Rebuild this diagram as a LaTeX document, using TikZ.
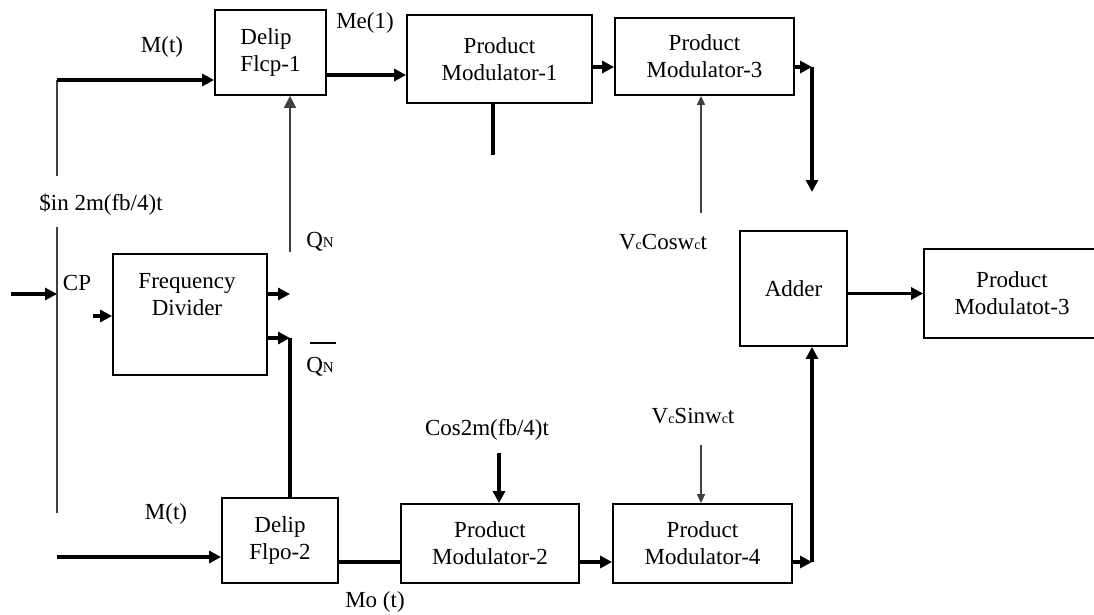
\documentclass[tikz,border=0pt]{standalone}
\usepackage{fontspec}
\setmainfont{Liberation Serif}
\usetikzlibrary{arrows.meta}
\newcommand{\smallsub}[1]{{\fontsize{14}{14}\selectfont #1}}
\newcommand{\smallN}{{\fontsize{15}{15}\selectfont N}}
\begin{document}
\begin{tikzpicture}[x=1pt,y=-1pt,
  font=\fontsize{23}{27}\selectfont,
  box/.style={draw, line width=1.8pt, inner sep=0pt, align=center},
  lbl/.style={inner sep=0pt, align=center},
  thk/.style={line width=3.2pt},
  thn/.style={line width=1.6pt, black!75},
  arr/.style={-{Triangle[length=12pt,width=12pt]}},
  arrs/.style={-{Triangle[length=9pt,width=8pt]}}]
\useasboundingbox (0,0) rectangle (1094,615);
\fill[white] (0,0) rectangle (1094,615);

% boxes
\node[box, minimum width=111pt, minimum height=85pt, align=left] (D1) at (270.5,52.5) {Delip\\Flcp-1};
\node[box, minimum width=185pt, minimum height=88pt] (PM1) at (499.5,59) {Product\\Modulator-1};
\node[box, minimum width=179pt, minimum height=77pt] (PM3) at (704.5,56.5) {Product\\Modulator-3};
\node[box, minimum width=107pt, minimum height=115pt] (AD) at (793.5,288.5) {Adder};
\node[box, minimum width=176pt, minimum height=89pt] (OUT) at (1012,293.5) {Product\\Modulatot-3};
\node[box, minimum width=154pt, minimum height=121pt] (FD) at (190,314.5) {};
\node[lbl] (FDt) at (187,295) {Frequency\\Divider};
\node[box, minimum width=116pt, minimum height=85pt] (D2) at (280,540.5) {Delip\\Flpo-2};
\node[box, minimum width=178pt, minimum height=79pt] (PM2) at (490,543.5) {Product\\Modulator-2};
\node[box, minimum width=179pt, minimum height=79pt] (PM4) at (702.5,543.5) {Product\\Modulator-4};

% labels
\node[lbl] (lMt) at (162,47) {M(t)};
\node[lbl] (lMe) at (365,23) {Me(1)};
\node[lbl] (lsin) at (101,205) {\$in 2m(fb/4)t};
\node[lbl] (lQN) at (320,242) {Q\smallN};
\node[lbl] (lCP) at (77,283) {CP};
\node[lbl] (lQNbar) at (323,343) {\rule{26pt}{1.5pt}};
\node[lbl] (lQNb) at (320,367) {Q\smallN};
\node[lbl] (lvcc) at (663,242) {V\smallsub{c}Cosw\smallsub{c}t};
\node[lbl] (lcos) at (487,430) {Cos2m(fb/4)t};
\node[lbl] (lvcs) at (693,416) {V\smallsub{c}Sinw\smallsub{c}t};
\node[lbl] (lMt2) at (166,514) {M(t)};
\node[lbl] (lMo) at (375,602) {Mo (t)};

% helper coordinates
\coordinate (y67) at (0,67);
\coordinate (y75) at (0,75);
\coordinate (y294) at (0,294);
\coordinate (y316) at (0,316);
\coordinate (y338) at (0,338);
\coordinate (y557) at (0,557);
\coordinate (y562) at (0,562);
\coordinate (cTopL) at (57,176);
\coordinate (cTopC) at (57,80);
\coordinate (cLvA) at (57,227);
\coordinate (cLvB) at (57,513);
\coordinate (cCPin) at (11,294);
\coordinate (cCP) at (57,294);
\coordinate (cFDin) at (93,316);
\coordinate (cQN) at (290,252);
\coordinate (cQNo) at (290,294);
\coordinate (cQNb) at (290,338);
\coordinate (cM2in) at (57,557);
\coordinate (cPM1s) at (493,155);
\coordinate (cR1) at (812,67);
\coordinate (cR1d) at (812,192);
\coordinate (cR2) at (812,562);
\coordinate (cVcc) at (701,213);
\coordinate (cCos) at (499,453);
\coordinate (cVcs) at (701,445);

% connectors
\draw[thn] (cTopL) -- (cTopC);
\draw[thk,arr] (cTopC) -- (D1.west |- cTopC);
\draw[thk,arr] (D1.east |- y75) -- (PM1.west |- y75);
\draw[thk] (cPM1s) -- (cPM1s |- PM1.south);
\draw[thk,arr] (PM1.east |- y67) -- (PM3.west |- y67);
\draw[thk,arr] (PM3.east |- y67) -- (cR1);
\draw[thk,arr] (cR1) -- (cR1d);
\draw[thn,arrs] (cVcc) -- (cVcc |- PM3.south);
\draw[thn,arr] (cQN) -- (cQN |- D1.south);
\draw[thn] (cLvA) -- (cLvB);
\draw[thk,arr] (cCPin) -- (cCP);
\draw[thk,arr] (cFDin) -- (FD.west |- y316);
\draw[thk,arr] (FD.east |- y294) -- (cQNo);
\draw[thk,arr] (FD.east |- y338) -- (cQNb);
\draw[thk] (cQNb) -- (cQNb |- D2.north);
\draw[thk,arr] (cM2in) -- (D2.west |- y557);
\draw[thk] (D2.east |- y562) -- (PM2.west |- y562);
\draw[thk,arr] (PM2.east |- y562) -- (PM4.west |- y562);
\draw[thk,arr] (cCos) -- (cCos |- PM2.north);
\draw[thn,arrs] (cVcs) -- (cVcs |- PM4.north);
\draw[thk,arr] (PM4.east |- y562) -- (cR2);
\draw[thk,arr] (cR2) -- (cR2 |- AD.south);
\draw[thk,arr] (AD.east |- OUT.west) -- (OUT.west);
\end{tikzpicture}
\end{document}
